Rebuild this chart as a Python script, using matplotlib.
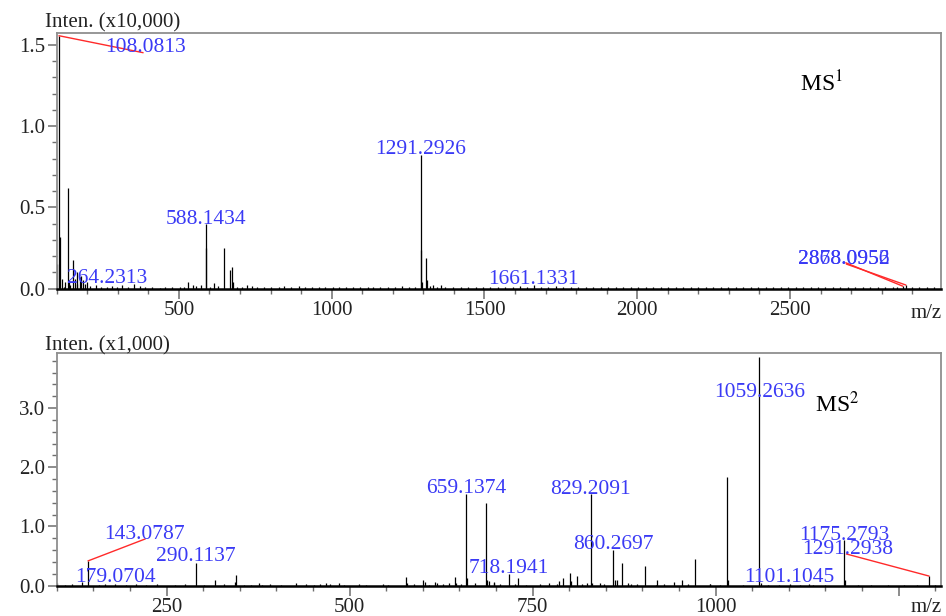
import matplotlib
matplotlib.use("Agg")
import matplotlib.pyplot as plt
from matplotlib.ticker import MultipleLocator, FormatStrFormatter, FuncFormatter

plt.rcParams["font.family"] = ["Liberation Serif", "DejaVu Serif"]
plt.rcParams["mathtext.fontset"] = "stix"

# ---- MS1 spectrum (intensity x10,000) ----
ms1_peaks = [
    (100, 0.15), (108.08, 1.557), (110, 0.32), (118, 0.06), (127, 0.04),
    (136.1, 0.617), (140, 0.05), (153, 0.175), (160, 0.06), (168, 0.10),
    (175, 0.07), (181, 0.08), (186, 0.05), (200, 0.04), (264.23, 0.01),
    (530, 0.04), (545, 0.02), (588.14, 0.397), (590, 0.247), (615, 0.035),
    (648, 0.247), (667, 0.117), (673, 0.134), (676, 0.04), (722, 0.02),
    (1291.29, 0.825), (1293, 0.24), (1296, 0.04), (1307, 0.185), (1311, 0.05),
    (1330, 0.02), (1357, 0.02), (1661.13, 0.02), (2868.10, 0.015), (2878.10, 0.022),
]
ms1_noise = [
    (125, 0.012), (142, 0.02), (165, 0.03), (192, 0.025), (210, 0.015), (228, 0.02),
    (245, 0.012), (281, 0.018), (298, 0.01), (315, 0.022), (333, 0.012), (352, 0.025),
    (371, 0.015), (390, 0.008), (412, 0.01), (437, 0.006), (455, 0.01), (478, 0.008),
    (502, 0.012), (517, 0.01), (556, 0.015), (571, 0.02), (603, 0.012), (628, 0.015),
    (690, 0.01), (705, 0.012), (740, 0.015), (757, 0.01), (779, 0.008), (801, 0.012),
    (826, 0.01), (845, 0.014), (868, 0.012), (893, 0.015), (912, 0.01), (934, 0.012),
    (958, 0.008), (977, 0.01), (1003, 0.012), (1024, 0.008), (1046, 0.01), (1071, 0.012),
    (1092, 0.008), (1118, 0.01), (1136, 0.012), (1159, 0.01), (1183, 0.008), (1207, 0.012),
    (1231, 0.014), (1254, 0.01), (1272, 0.012), (1322, 0.018), (1345, 0.01), (1371, 0.012),
    (1398, 0.01), (1423, 0.008), (1447, 0.012), (1472, 0.01), (1496, 0.008), (1519, 0.012),
    (1543, 0.01), (1568, 0.012), (1593, 0.008), (1617, 0.014), (1640, 0.01), (1685, 0.012),
    (1709, 0.01), (1734, 0.014), (1758, 0.01), (1783, 0.012), (1807, 0.008), (1832, 0.01),
    (1856, 0.012), (1881, 0.008), (1905, 0.01), (1930, 0.012), (1954, 0.008), (1979, 0.01),
    (2003, 0.008), (2028, 0.012), (2052, 0.01), (2077, 0.008), (2101, 0.012), (2126, 0.01),
    (2150, 0.008), (2175, 0.01), (2199, 0.012), (2224, 0.008), (2248, 0.01), (2273, 0.012),
    (2297, 0.008), (2322, 0.01), (2346, 0.008), (2371, 0.012), (2395, 0.01), (2420, 0.008),
    (2444, 0.01), (2469, 0.012), (2493, 0.008), (2518, 0.01), (2542, 0.008), (2567, 0.012),
    (2591, 0.01), (2616, 0.008), (2640, 0.01), (2665, 0.012), (2689, 0.008), (2714, 0.01),
    (2738, 0.008), (2763, 0.012), (2787, 0.01), (2812, 0.008), (2836, 0.01), (2851, 0.012),
    (2898, 0.01), (2922, 0.008), (2947, 0.012), (2971, 0.01),
]
# label text, label position (x, baseline y), peak the leader points to (or None)
ms1_labels = [
    ("108.0813", (390, 1.455), (108.08, 1.557)),
    ("1291.2926", (1291.29, 0.83), None),
    ("588.1434", (588.14, 0.40), None),
    ("264.2313", (264.23, 0.034), None),
    ("1661.1331", (1661.13, 0.028), None),
    ("2868.0956", (2675, 0.152), (2868.10, 0.015)),
    ("2878.0952", (2675, 0.152), (2878.10, 0.022)),
]
ms1_leader_start = [(382, 1.453), None, None, None, None, (2683, 0.158), (2685, 0.150)]

# ---- MS2 spectrum (intensity x1,000) ----
ms2_peaks = [
    (100, 0.04), (134, 0.07), (143.08, 0.42), (179.07, 0.03), (290.11, 0.39),
    (316, 0.10), (343, 0.07), (345, 0.18), (377, 0.04), (381, 0.02),
    (427, 0.05), (459, 0.03), (468, 0.04), (486, 0.04), (576.5, 0.15),
    (578, 0.05), (601, 0.10), (603, 0.06), (617, 0.07), (620, 0.04),
    (644, 0.15), (646, 0.05), (659.14, 1.55), (661, 0.13), (686, 1.40),
    (688, 0.10), (690, 0.08), (697, 0.06), (718.19, 0.19), (730.5, 0.13),
    (786, 0.08), (792, 0.13), (801, 0.22), (803, 0.08), (811, 0.16),
    (825, 0.05), (829.21, 1.55), (831, 0.05), (860.27, 0.60), (863, 0.10),
    (866, 0.10), (872.4, 0.39), (880, 0.05), (903.5, 0.34), (919.5, 0.09),
    (943.5, 0.07), (954.4, 0.10), (971.7, 0.45), (993, 0.03), (1015, 1.83),
    (1017, 0.10), (1059.26, 3.87), (1062, 0.05), (1101.1, 0.03), (1175.28, 0.77),
    (1177, 0.10), (1291.29, 0.16),
]
ms2_noise = [
    (112, 0.02), (121, 0.03), (158, 0.02), (166, 0.03), (195, 0.02), (208, 0.03),
    (222, 0.02), (237, 0.03), (262, 0.02), (275, 0.03), (301, 0.02), (328, 0.03),
    (356, 0.02), (365, 0.02), (392, 0.03), (407, 0.02), (441, 0.03), (452, 0.02),
    (474, 0.03), (492, 0.02), (513, 0.03), (522, 0.02), (546, 0.03), (553, 0.02),
    (588, 0.03), (609, 0.02), (628, 0.03), (636, 0.05), (652, 0.03), (671, 0.04),
    (697, 0.05), (705, 0.03), (726, 0.03), (741, 0.02), (760, 0.03), (772, 0.04),
    (783, 0.03), (818, 0.03), (842, 0.04), (848, 0.03), (884, 0.03), (893, 0.03),
    (918, 0.02), (930, 0.03), (962, 0.03), (993, 0.03), (1006, 0.02), (1038, 0.02),
    (1072, 0.02), (1087, 0.02), (1115, 0.02), (1128, 0.03), (1133, 0.02), (1150, 0.02),
    (1195, 0.02), (1212, 0.02), (1236, 0.02), (1258, 0.02), (1275, 0.02), (1300, 0.02),
]
ms2_labels = [
    ("1059.2636", (1060, 3.18), None),
    ("659.1374", (659.14, 1.56), None),
    ("829.2091", (829.21, 1.55), None),
    ("860.2697", (860.27, 0.62), None),
    ("143.0787", (220, 0.79), (143.08, 0.42)),
    ("290.1137", (290.11, 0.42), None),
    ("718.1941", (718.19, 0.21), None),
    ("179.0704", (180, 0.068), None),
    ("1101.1045", (1101.1, 0.057), None),
    ("1175.2793", (1175.28, 0.78), None),
    ("1291.2938", (1181, 0.535), (1291.29, 0.164)),
]
ms2_leader_start = [None, None, None, None, (220.6, 0.788), None, None, None, None, None, (1179, 0.535)]

LABEL_BLUE = "#3a3af5"
LEADER_RED = "#ff2a2a"
TICK_GREY = "#6e6e6e"


def draw_spectrum(ax, peaks, noise, labels, leader_start):
    nmz = [p[0] for p in noise]
    nint = [p[1] for p in noise]
    pmz = [p[0] for p in peaks]
    pint = [p[1] for p in peaks]
    ax.vlines(nmz, 0, nint, colors="black", lw=0.9)
    ax.vlines(pmz, 0, pint, colors="black", lw=0.9)
    for (txt, pos, peak), start in zip(labels, leader_start):
        ax.text(pos[0], pos[1], txt, ha="center", va="baseline",
                color=LABEL_BLUE, fontsize=15.5, zorder=4)
        if peak is not None:
            ax.plot([peak[0], start[0]], [peak[1], start[1]],
                    color=LEADER_RED, lw=1.0, zorder=3)


def style_axes(ax, xlim, ylim, xmaj, xmin, ymaj, ymin, hide_x=()):
    ax.set_xlim(*xlim)
    ax.set_ylim(*ylim)
    for s in ("top", "right", "left"):
        ax.spines[s].set_color("#8f8f8f")
        ax.spines[s].set_linewidth(1.3)
    ax.spines["bottom"].set_color("black")
    ax.spines["bottom"].set_linewidth(1.8)
    ax.xaxis.set_major_locator(MultipleLocator(xmaj))
    ax.xaxis.set_minor_locator(MultipleLocator(xmin))
    ax.yaxis.set_major_locator(MultipleLocator(ymaj))
    ax.yaxis.set_minor_locator(MultipleLocator(ymin))
    ax.yaxis.set_major_formatter(FormatStrFormatter("%.1f"))
    ax.xaxis.set_major_formatter(FuncFormatter(
        lambda v, p: "" if round(v) in hide_x else "%d" % round(v)))
    ax.tick_params(axis="x", which="major", length=7.5, width=1.1, color=TICK_GREY,
                   labelsize=15, pad=1.5, labelcolor="#222222")
    ax.tick_params(axis="y", which="major", length=6.5, width=1.1, color=TICK_GREY,
                   labelsize=15, pad=2, labelcolor="#222222")
    ax.tick_params(which="minor", length=3.8, width=1.0, color=TICK_GREY)
    ax.tick_params(top=False, right=False)


fig = plt.figure(figsize=(9.46, 6.16), dpi=100)
W, H = 946.0, 616.0

ax1 = fig.add_axes([56.7 / W, 1 - 288.5 / H, (941 - 56.7) / W, (288.5 - 33) / H])
draw_spectrum(ax1, ms1_peaks, ms1_noise, ms1_labels, ms1_leader_start)
style_axes(ax1, (100, 2994), (0, 1.574), 500, 100, 0.5, 0.1)

ax2 = fig.add_axes([56.7 / W, 1 - 585.7 / H, (941 - 56.7) / W, (585.7 - 353) / H])
draw_spectrum(ax2, ms2_peaks, ms2_noise, ms2_labels, ms2_leader_start)
style_axes(ax2, (100, 1308), (0, 3.93), 250, 50, 1.0, 0.2, hide_x=(1250,))

fig.text(45 / W, 1 - 27 / H, "Inten. (x10,000)", fontsize=15, color="#222222", va="baseline")
fig.text(45 / W, 1 - 350 / H, "Inten. (x1,000)", fontsize=15, color="#222222", va="baseline")
fig.text(942 / W, 1 - 318 / H, "m/z", fontsize=15, color="#222222", ha="right", va="baseline")
fig.text(942 / W, 1 - 612 / H, "m/z", fontsize=15, color="#222222", ha="right", va="baseline")
fig.text(800 / W, 1 - 91.7 / H, "MS$^{1}$", fontsize=17, color="black", va="baseline")
fig.text(815 / W, 1 - 411.7 / H, "MS$^{2}$", fontsize=17, color="black", va="baseline")

fig.savefig("out.png", dpi=100)
